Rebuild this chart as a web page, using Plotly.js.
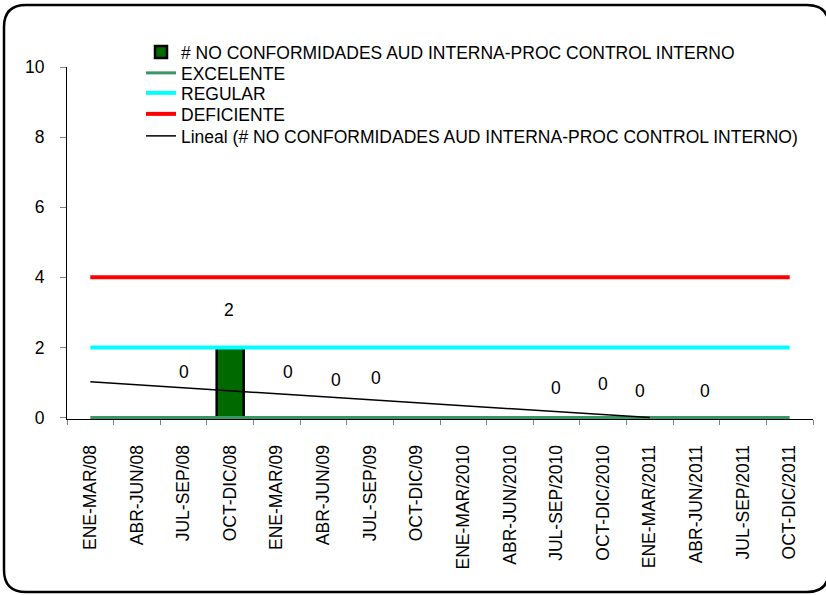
<!DOCTYPE html>
<html>
<head>
<meta charset="utf-8">
<script src="https://cdn.plot.ly/plotly-3.0.1.min.js"></script>
<style>
  html, body { margin: 0; padding: 0; background: #fff; }
  #chart { width: 826px; height: 595px; }
</style>
</head>
<body>
<div id="chart"></div>
<script>
// ---- data ----
const categories = ["ENE-MAR/08","ABR-JUN/08","JUL-SEP/08","OCT-DIC/08","ENE-MAR/09","ABR-JUN/09","JUL-SEP/09","OCT-DIC/09","ENE-MAR/2010","ABR-JUN/2010","JUL-SEP/2010","OCT-DIC/2010","ENE-MAR/2011","ABR-JUN/2011","JUL-SEP/2011","OCT-DIC/2011"];
const noConformidades = [null, null, 0, 2, 0, 0, 0, null, null, null, 0, 0, 0, 0, null, null];
const excelente  = [0, 0, 0, 0, 0, 0, 0, 0, 0, 0, 0, 0, 0, 0, 0, 0];
const regular    = [2, 2, 2, 2, 2, 2, 2, 2, 2, 2, 2, 2, 2, 2, 2, 2];
const deficiente = [4, 4, 4, 4, 4, 4, 4, 4, 4, 4, 4, 4, 4, 4, 4, 4];
const trendCats  = ["ENE-MAR/08", "ENE-MAR/2011"];
const trendVals  = [1.02, 0];
const yTicks     = [0, 2, 4, 6, 8, 10];

// ---- label placement (style, in category / value units) ----
const labelNudge = {
  2: [0.00, 1.31], 3: [-0.02, 1.07], 4: [0.25, 1.31], 5: [0.26, 1.08], 6: [0.12, 1.14],
  10: [-0.02, 0.85], 11: [-0.01, 0.97], 12: [-0.20, 0.77], 13: [0.18, 0.77]
};

const FONT = "Liberation Sans, Arial, sans-serif";
const FS = 17.5;

const traces = [
  {
    type: "bar", x: categories, y: noConformidades,
    name: "# NO CONFORMIDADES AUD INTERNA-PROC CONTROL INTERNO",
    marker: { color: "rgb(0,105,0)", line: { color: "#000", width: 2.5 } },
    width: 0.58, hoverinfo: "x+y", legend: "legend"
  },
  {
    type: "scatter", mode: "lines", x: categories, y: excelente, name: "EXCELENTE",
    line: { color: "rgb(58,150,100)", width: 3 }, legend: "legend2"
  },
  {
    type: "scatter", mode: "lines", x: categories, y: regular, name: "REGULAR",
    line: { color: "#00FFFF", width: 4 }, legend: "legend3"
  },
  {
    type: "scatter", mode: "lines", x: categories, y: deficiente, name: "DEFICIENTE",
    line: { color: "#FF0000", width: 4 }, legend: "legend4"
  },
  {
    type: "scatter", mode: "lines", x: trendCats, y: trendVals,
    name: "Lineal (# NO CONFORMIDADES AUD INTERNA-PROC CONTROL INTERNO)",
    line: { color: "#000", width: 1.5 }, legend: "legend5"
  }
];

const annotations = [];
noConformidades.forEach((v, i) => {
  if (v === null) return;
  const n = labelNudge[i] || [0, 0.5];
  annotations.push({
    x: i + n[0], y: v + n[1], xref: "x", yref: "y",
    text: String(v), showarrow: false,
    font: { family: FONT, size: FS, color: "#000" }
  });
});

// rounded frame (paper coords relative to plot area)
const L = 67, R = 13, T = 67, B = 176, W = 826 - L - R, H = 595 - T - B;
function px(xp) { return (xp - L) / W; }
function py(yp) { return (595 - B - yp) / H; }
const fx0 = 4, fx1 = 829, fy0 = 5, fy1 = 592, rad = 22;
const framePath =
  "M " + px(fx0 + rad) + "," + py(fy0) +
  " L " + px(fx1 - rad) + "," + py(fy0) +
  " Q " + px(fx1) + "," + py(fy0) + " " + px(fx1) + "," + py(fy0 + rad) +
  " L " + px(fx1) + "," + py(fy1 - rad) +
  " Q " + px(fx1) + "," + py(fy1) + " " + px(fx1 - rad) + "," + py(fy1) +
  " L " + px(fx0 + rad) + "," + py(fy1) +
  " Q " + px(fx0) + "," + py(fy1) + " " + px(fx0) + "," + py(fy1 - rad) +
  " L " + px(fx0) + "," + py(fy0 + rad) +
  " Q " + px(fx0) + "," + py(fy0) + " " + px(fx0 + rad) + "," + py(fy0) + " Z";

function legendAt(cy) {
  return {
    x: px(141), y: py(cy), xanchor: "left", yanchor: "middle",
    bgcolor: "rgba(0,0,0,0)", font: { family: FONT, size: FS, color: "#000" },
    tracegroupgap: 0, itemwidth: 30
  };
}

const layout = {
  width: 826, height: 595,
  margin: { l: L, r: R, t: T, b: B, pad: 0 },
  paper_bgcolor: "#fff", plot_bgcolor: "#fff",
  font: { family: FONT, size: FS, color: "#000" },
  showlegend: true,
  legend: legendAt(52),
  legend2: legendAt(73),
  legend3: legendAt(93),
  legend4: legendAt(114),
  legend5: legendAt(136),
  xaxis: {
    type: "category", range: [-0.5, 15.5],
    showline: true, linecolor: "#000", linewidth: 1,
    ticks: "outside", tickson: "boundaries", ticklen: 5, tickcolor: "#808080",
    tickangle: -90, showgrid: false, zeroline: false,
    tickfont: { family: FONT, size: FS, color: "#000" }, ticklabelstandoff: 18,
    fixedrange: true
  },
  yaxis: {
    range: [-0.04, 10], tickvals: yTicks,
    showline: true, linecolor: "#000", linewidth: 1,
    ticks: "outside", ticklen: 6, tickcolor: "#808080",
    showgrid: false, zeroline: false,
    tickfont: { family: FONT, size: FS, color: "#000" }, ticklabelstandoff: 12,
    fixedrange: true
  },
  annotations: annotations,
  shapes: [{
    type: "path", xref: "paper", yref: "paper", path: framePath,
    line: { color: "#000", width: 2.5 }, fillcolor: "rgba(0,0,0,0)", layer: "above"
  }],
  bargap: 0.42
};

Plotly.newPlot("chart", traces, layout, { displayModeBar: false, staticPlot: true });
</script>
</body>
</html>
